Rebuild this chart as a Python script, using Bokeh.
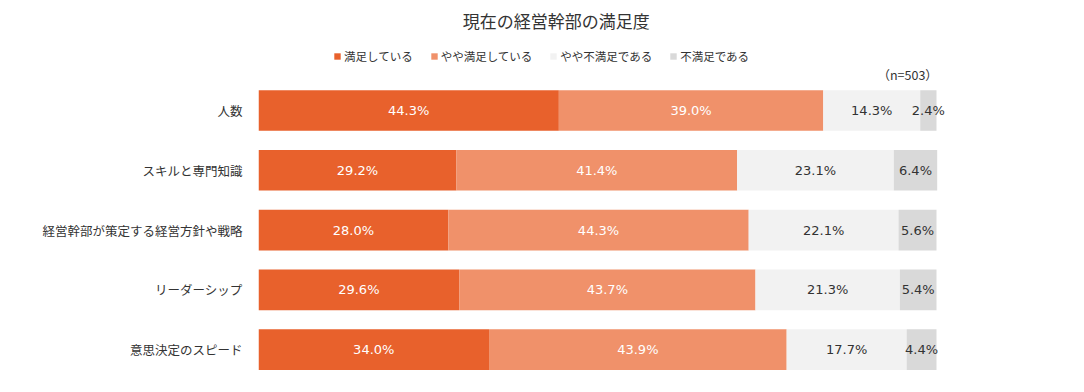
from bokeh.plotting import figure
from bokeh.models import ColumnDataSource, Legend, LegendItem, Label, Range1d, FixedTicker
from bokeh.core.properties import value
from bokeh.embed import file_html
from bokeh.resources import INLINE

categories = ["人数", "スキルと専門知識", "経営幹部が策定する経営方針や戦略", "リーダーシップ", "意思決定のスピード"]
series_names = ["満足している", "やや満足している", "やや不満足である", "不満足である"]
satisfied = [44.3, 29.2, 28.0, 29.6, 34.0]
somewhat_satisfied = [39.0, 41.4, 44.3, 43.7, 43.9]
somewhat_unsatisfied = [14.3, 23.1, 22.1, 21.3, 17.7]
unsatisfied = [2.4, 6.4, 5.6, 5.4, 4.4]
sample_note = "（n=503）"
chart_title = "現在の経営幹部の満足度"

colors = ["#E8612C", "#F0916A", "#F2F2F2", "#D9D9D9"]
label_colors = ["#FFFFFF", "#FFFFFF", "#333333", "#333333"]
FONT = "Noto Sans CJK JP"

series = [satisfied, somewhat_satisfied, somewhat_unsatisfied, unsatisfied]
keys = ["s0", "s1", "s2", "s3"]
pos = list(range(len(categories)))
data = {"pos": pos}
for k, s in zip(keys, series):
    data[k] = s
src = ColumnDataSource(data)

W, H = 1068, 384
p = figure(x_range=Range1d(0, 103.54), y_range=Range1d(4.582, -1.839),
           width=W, height=H, output_backend="svg", toolbar_location=None,
           min_border_left=258, min_border_right=108, min_border_top=0, min_border_bottom=0)

rs = p.hbar_stack(keys, y="pos", height=0.68, color=colors, source=src, line_width=0)

# value labels
for i, (k, s) in enumerate(zip(keys, series)):
    starts = [sum(series[j][n] for j in range(i)) for n in range(len(categories))]
    centers = [st + v / 2 for st, v in zip(starts, s)]
    lsrc = ColumnDataSource(dict(x=centers, y=pos, t=[f"{v:.1f}%" for v in s]))
    p.text(x="x", y="y", text="t", source=lsrc, text_align="center", text_baseline="middle",
           text_color=label_colors[i], text_font=value("DejaVu Sans"), text_font_size="13px")

p.xaxis.visible = False
p.xgrid.visible = False
p.ygrid.visible = False
p.outline_line_color = None
p.yaxis.ticker = FixedTicker(ticks=pos)
p.yaxis.major_label_overrides = {i: c for i, c in zip(pos, categories)}
p.yaxis.axis_line_color = None
p.yaxis.major_tick_line_color = None
p.yaxis.minor_tick_line_color = None
p.yaxis.major_label_standoff = 10
p.yaxis.major_label_text_font = FONT
p.yaxis.major_label_text_font_size = "12.5px"
p.yaxis.major_label_text_color = "#333333"

p.add_layout(Label(x=100.2, y=-0.604, text=sample_note, text_align="right", text_baseline="middle",
                   text_font=FONT, text_font_size="12.5px", text_color="#333333"))
p.add_layout(Label(x=43.9, y=-1.51, text=chart_title, text_align="center", text_baseline="middle",
                   text_font=FONT, text_font_size="17px", text_color="#333333"))

legend = Legend(items=[LegendItem(label=nm, renderers=[r]) for nm, r in zip(series_names, rs)],
                orientation="horizontal", location=(75, 320), glyph_width=8, glyph_height=8,
                label_text_font=FONT, label_text_font_size="11.5px", label_text_color="#333333",
                label_standoff=3, spacing=17, padding=0, margin=0,
                border_line_color=None, background_fill_alpha=0, label_height=12)
p.add_layout(legend, "center")

open("out.html", "w").write(file_html(p, INLINE))
